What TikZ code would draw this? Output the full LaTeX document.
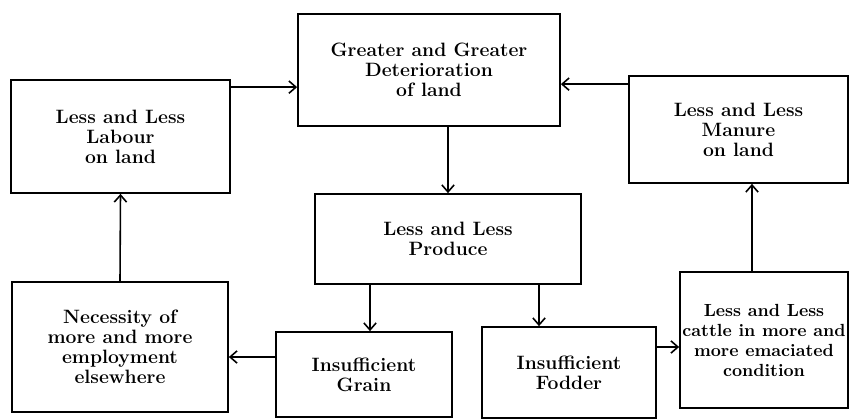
\documentclass[tikz,border=0pt]{standalone}
\usepackage{tikz}
\usetikzlibrary{arrows.meta}
\tikzset{>={Straight Barb[length=4pt,width=7pt]}}
\tikzset{blk/.style={draw,line width=1pt,inner sep=0pt,align=center,font=\fontsize{11}{11.4}\selectfont\bfseries}}

\begin{document}
\begin{tikzpicture}[x=0.02cm,y=-0.02cm]
                    \useasboundingbox (0,0) rectangle (849,419);

                    \node[blk,minimum width=4.38cm,minimum height=2.26cm] (L) at (120.5,136.5) {Less and Less\\Labour\\on land};
                    \node[blk,minimum width=5.24cm,minimum height=2.24cm] (D) at (429,70) {Greater and Greater\\Deterioration\\of land};
                    \node[blk,minimum width=4.38cm,minimum height=2.14cm] (M) at (738.5,129.5) {Less and Less\\Manure\\on land};
                    \node[blk,minimum width=5.32cm,minimum height=1.80cm] (P) at (448,239) {Less and Less\\Produce};
                    \node[blk,minimum width=3.52cm,minimum height=1.70cm] (G) at (364,374.5) {Insufficient\\Grain};
                    \node[blk,minimum width=3.48cm,minimum height=1.82cm] (F) at (569,372.5) {Insufficient\\Fodder};
                    \node[blk,minimum width=3.36cm,minimum height=2.72cm,font=\fontsize{10}{11.4}\selectfont\bfseries] (C) at (764,340) {Less and Less\\cattle in more and\\more emaciated\\condition};
                    \node[blk,minimum width=4.32cm,minimum height=2.60cm] (N) at (120,347) {Necessity of\\more and more\\employment\\elsewhere};

                    \draw[->, line width=0.9pt] ([yshift=-0.16cm]L.north east) -- ([yshift=-0.16cm]L.north east -| D.west);
                    \draw[->, line width=0.9pt] ([yshift=-0.18cm]M.north west) -- ([yshift=-0.18cm]M.north west -| D.east);
                    \draw[->, line width=0.9pt] (D.south -| P.north) -- (P.north);
                    \draw[->, line width=0.9pt] ([xshift=0.12cm]P.south -| G.north) -- ([xshift=0.12cm]G.north);
                    \draw[->, line width=0.9pt] ([xshift=-0.6cm]F.north |- P.south) -- ([xshift=-0.6cm]F.north);
                    \draw[->, line width=0.9pt] ([yshift=-0.14cm]F.east |- C.west) -- ([yshift=-0.14cm]C.west);
                    \draw[->, line width=0.9pt] ([xshift=-0.24cm]C.north) -- ([xshift=-0.24cm]C.north |- M.south);
                    \draw[->, line width=0.9pt] ([yshift=-0.2cm]G.west |- N.east) -- ([yshift=-0.2cm]N.east);
                    \draw[->, line width=0.9pt] (N.north) -- (L.south);
                \end{tikzpicture}
\end{document}
